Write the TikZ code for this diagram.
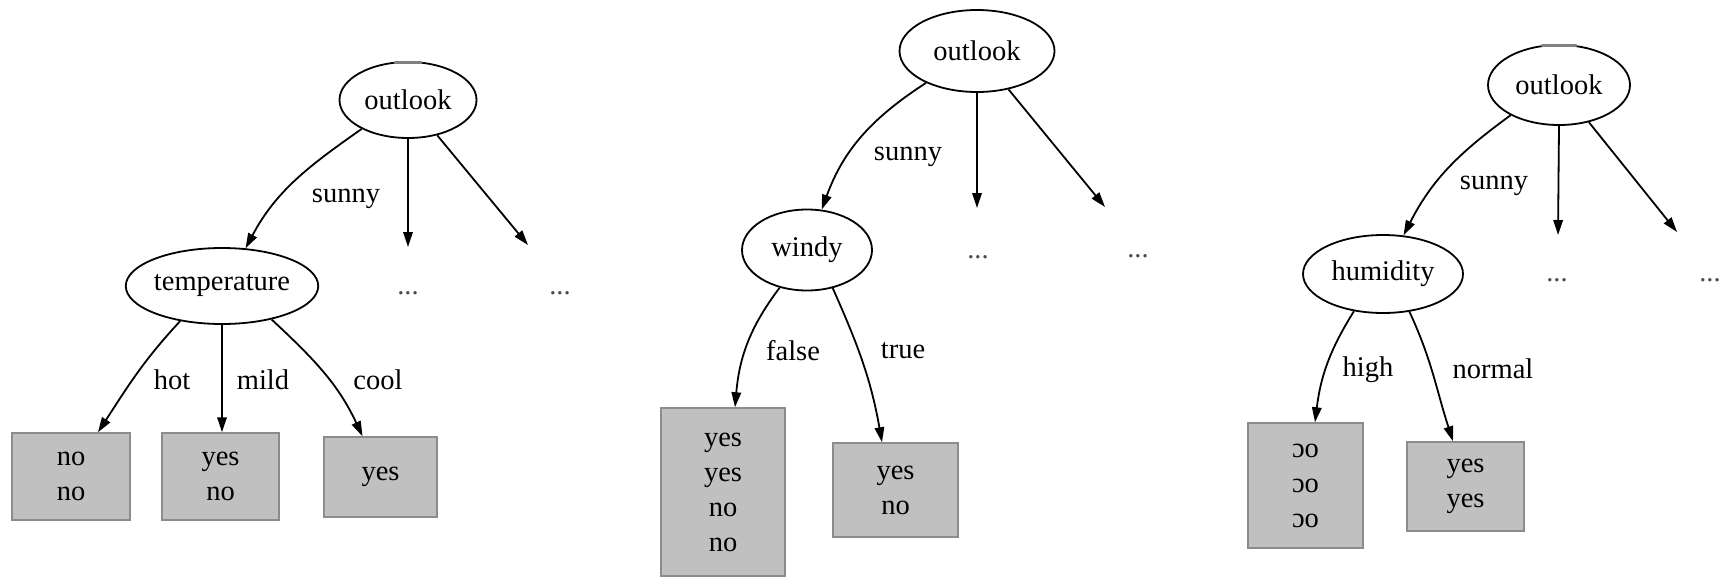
\documentclass[tikz,border=0pt]{standalone}
\usepackage{fontspec}
\setmainfont{Liberation Serif}
\usetikzlibrary{arrows.meta,shapes.geometric}
\definecolor{leaffill}{RGB}{192,192,192}
\definecolor{leafedge}{RGB}{140,140,140}
\begin{document}
\begin{tikzpicture}[x=1pt,y=1pt,
  every node/.style={font=\fontsize{28.5}{35}\selectfont},
  attr/.style={ellipse,draw,line width=1.8pt,inner sep=0pt},
  leaf/.style={rectangle,draw=leafedge,fill=leaffill,line width=1.5pt,align=center,inner sep=0pt},
  edge/.style={line width=1.8pt,-{Triangle[length=15pt,width=9.5pt]}},
  lab/.style={inner sep=0pt},
  more/.style={inner sep=0pt,text=black!70},
  smudge/.style={black!50,line width=3pt,line cap=round}]
\useasboundingbox (0,0) rectangle (1728,-576);

% ---------- tree with temperature ----------
\node[attr,minimum width=137pt,minimum height=76pt] (o1) at (408,-100) {outlook};
\node[attr,minimum width=189pt,minimum height=76pt] (t1) at (222,-286) {temperature};
\node[leaf,minimum width=118pt,minimum height=87pt] (l11) at (71,-476.5) {no\\no};
\node[leaf,minimum width=117pt,minimum height=87pt] (l12) at (220.5,-476.5) {yes\\no};
\node[leaf,minimum width=113pt,minimum height=80pt] (l13) at (380.5,-477) {yes};
\coordinate (e11) at (408,-247);
\coordinate (e12) at (528,-245);
\node[more] (m11) at (408,-293) {...};
\node[more] (m12) at (560,-293) {...};
\node[lab] (s1) at (346,-199) {sunny};
\node[lab] (hot) at (172,-380) {hot};
\node[lab] (mild) at (263,-380) {mild};
\node[lab] (cool) at (378,-380) {cool};
\draw[smudge] ([xshift=-13pt,yshift=-1pt]o1.north) -- ([xshift=13pt,yshift=-1pt]o1.north);

\draw[edge] (o1.212) to[out=215,in=62] (t1.58);
\draw[edge] (o1.south) -- (e11);
\draw[edge] (o1) -- (e12);
\draw[edge] (t1.220) to[out=-133,in=57] ([xshift=27pt]l11.north);
\draw[edge] (t1.south) -- (t1.south |- l12.north);
\draw[edge] (t1.-34) to[out=-43,in=115] ([xshift=-18pt]l13.north);

% ---------- tree with windy ----------
\node[attr,minimum width=155pt,minimum height=82pt] (o2) at (977,-51) {outlook};
\node[attr,minimum width=130pt,minimum height=81pt] (w2) at (807,-250) {windy};
\node[leaf,minimum width=124pt,minimum height=168pt] (l21) at (723,-492) {yes\\yes\\no\\no};
\node[leaf,minimum width=125pt,minimum height=94pt] (l22) at (895.5,-490) {yes\\no};
\coordinate (e21) at (977,-208);
\coordinate (e22) at (1105,-207);
\node[more] (m21) at (978,-257) {...};
\node[more] (m22) at (1138,-256) {...};
\node[lab] (s2) at (908,-157) {sunny};
\node[lab] (fal) at (793,-351) {false};
\node[lab] (tru) at (903,-351) {true};

\draw[edge] (o2.-148) to[out=-147,in=70] (w2.70);
\draw[edge] (o2.south) -- (e21);
\draw[edge] (o2) -- (e22);
\draw[edge] (w2.-126) to[out=-127,in=85] ([xshift=12pt]l21.north);
\draw[edge] (w2.-56) to[out=-66,in=100] ([xshift=-13.5pt]l22.north);

% ---------- tree with humidity ----------
\node[attr,minimum width=142pt,minimum height=80pt] (o3) at (1559,-85) {outlook};
\node[attr,minimum width=160pt,minimum height=78pt] (h3) at (1383,-274) {humidity};
\node[leaf,minimum width=115pt,minimum height=125pt] (l31) at (1305.5,-485.5) {ɔo\\ɔo\\ɔo};
\node[leaf,minimum width=117pt,minimum height=89pt] (l32) at (1465.5,-486.5) {yes\\yes};
\coordinate (e31) at (1558,-235);
\coordinate (e32) at (1677,-232);
\node[more] (m31) at (1557,-280) {...};
\node[more] (m32) at (1710,-280) {...};
\node[lab] (s3) at (1494,-186) {sunny};
\node[lab] (hig) at (1368,-370) {high};
\node[lab] (nor) at (1493,-369) {normal};
\draw[smudge] ([xshift=-17pt,yshift=-1pt]o3.north) -- ([xshift=17pt,yshift=-1pt]o3.north);

\draw[edge] (o3.-148) to[out=-144,in=63] (h3.62);
\draw[edge] (o3.south) -- (e31);
\draw[edge] (o3) -- (e32);
\draw[edge] (h3.-128) to[out=-122,in=83] ([xshift=9.5pt]l31.north);
\draw[edge] (h3.-55) to[out=-65,in=108] ([xshift=-12.5pt]l32.north);
\end{tikzpicture}
\end{document}
